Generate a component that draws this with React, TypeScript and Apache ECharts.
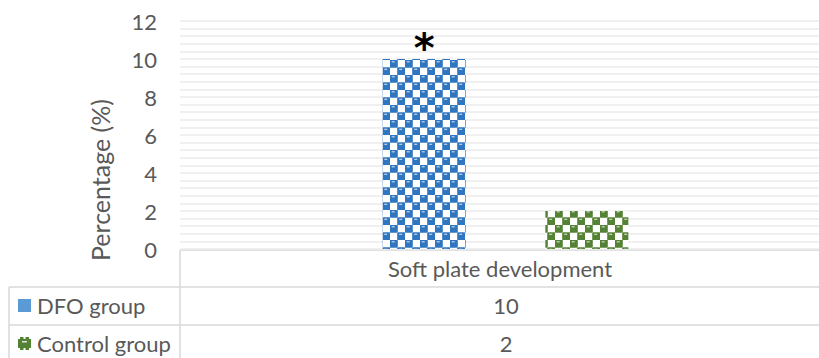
import React, { useEffect, useRef } from 'react';
import * as echarts from 'echarts';

// Chart data
const categories = ['Soft plate development'];
const seriesNames = ['DFO group', 'Control group'];
const dfoValues = [10];
const controlValues = [2];
const significanceMarks = ['*'];
const yTickLabels = ['0', '2', '4', '6', '8', '10', '12'];

const TEXT = '#595959';
const LINE = '#d9d9d9';
const FONT = 'Lato, "Open Sans", sans-serif';
const FS = 22;

// Sphere-style pattern tile: checkerboard of rounded cells with a small highlight
function makeTile(color: string): HTMLCanvasElement {
  const size = 15;
  const half = size / 2;
  const c = document.createElement('canvas');
  c.width = size;
  c.height = size;
  const ctx = c.getContext('2d')!;
  ctx.fillStyle = '#ffffff';
  ctx.fillRect(0, 0, size, size);
  const cell = (x: number, y: number) => {
    const s = half + 0.6;
    ctx.fillStyle = color;
    ctx.beginPath();
    const r = 1;
    ctx.moveTo(x + r, y);
    ctx.lineTo(x + s - r, y);
    ctx.quadraticCurveTo(x + s, y, x + s, y + r);
    ctx.lineTo(x + s, y + s - r);
    ctx.quadraticCurveTo(x + s, y + s, x + s - r, y + s);
    ctx.lineTo(x + r, y + s);
    ctx.quadraticCurveTo(x, y + s, x, y + s - r);
    ctx.lineTo(x, y + r);
    ctx.quadraticCurveTo(x, y, x + r, y);
    ctx.closePath();
    ctx.fill();
    ctx.fillStyle = 'rgba(255,255,255,0.7)';
    ctx.fillRect(x + 2, y + 1.5, 3, 1.2);
  };
  cell(-0.3, -0.3);
  cell(half - 0.3, half - 0.3);
  cell(size - 0.3, size - 0.3);
  return c;
}

export default function App() {
  const ref = useRef<HTMLDivElement>(null);

  useEffect(() => {
    if (!ref.current) return;
    const chart = echarts.init(ref.current, undefined, { renderer: 'svg' });

    const blueTile = makeTile('#2f75bf');
    const greenTile = makeTile('#548235');

    const yMax = Number(yTickLabels[yTickLabels.length - 1]);
    const yStep = Number(yTickLabels[1]) - Number(yTickLabels[0]);

    const tableLeft = 9;
    const tableSplit = 180;
    const tableRight = 819;
    const rowTops = [250, 287, 325];
    const rowH = 38;
    const valueX = 506;

    const hLine = (y: number, x1: number, x2: number) => ({
      type: 'line',
      shape: { x1, y1: y, x2, y2: y },
      style: { stroke: LINE, lineWidth: 1.5 },
      silent: true,
    });
    const vLine = (x: number, y1: number, y2: number) => ({
      type: 'line',
      shape: { x1: x, y1, x2: x, y2 },
      style: { stroke: LINE, lineWidth: 1.5 },
      silent: true,
    });
    const txt = (x: number, y: number, s: string, align: string) => ({
      type: 'text',
      x,
      y,
      style: {
        text: s,
        fill: TEXT,
        font: `${FS}px ${FONT}`,
        textAlign: align,
        textVerticalAlign: 'middle',
      },
      silent: true,
    });

    const graphics: any[] = [
      hLine(rowTops[0], tableSplit, tableRight),
      hLine(rowTops[1], tableLeft, tableRight),
      hLine(rowTops[2], tableLeft, tableRight),
      vLine(tableLeft, rowTops[1], 360),
      vLine(tableSplit, rowTops[0], 360),
      txt(500, rowTops[0] + rowH / 2 - 1, categories[0], 'center'),
      txt(valueX, rowTops[1] + rowH / 2 - 0.5, String(dfoValues[0]), 'center'),
      txt(valueX, rowTops[2] + rowH / 2 - 0.5, String(controlValues[0]), 'center'),
      txt(37, rowTops[1] + rowH / 2 - 0.5, seriesNames[0], 'left'),
      txt(37, rowTops[2] + rowH / 2 - 0.5, seriesNames[1], 'left'),
      {
        type: 'rect',
        shape: { x: 18, y: 299, width: 13, height: 13 },
        style: { fill: '#5b9bd5' },
        silent: true,
      },
      {
        type: 'rect',
        shape: { x: 18, y: 337, width: 13, height: 13 },
        style: { fill: '#548235' },
        silent: true,
      },
      ...[
        [18, 337],
        [29, 337],
        [18, 348],
        [29, 348],
        [23.5, 337],
        [23.5, 348],
      ].map(([x, y]) => ({
        type: 'rect',
        shape: { x, y, width: 2, height: 2 },
        style: { fill: '#ffffff' },
        silent: true,
      })),
      {
        type: 'rect',
        shape: { x: 22, y: 341, width: 5, height: 1.5 },
        style: { fill: 'rgba(255,255,255,0.8)' },
        silent: true,
      },
      {
        type: 'text',
        x: 100,
        y: 180,
        rotation: Math.PI / 2,
        style: {
          text: 'Percentage (%)',
          fill: TEXT,
          font: `25px ${FONT}`,
          textAlign: 'center',
          textVerticalAlign: 'middle',
        },
        silent: true,
      },
    ];

    chart.setOption({
      animation: false,
      backgroundColor: '#ffffff',
      grid: {
        left: 180,
        width: 651,
        top: 21,
        bottom: 109,
        containLabel: false,
        outerBoundsMode: 'none',
      },
      xAxis: {
        type: 'category',
        data: categories,
        axisLine: { show: false },
        axisTick: { show: false },
        axisLabel: { show: false },
      },
      yAxis: {
        type: 'value',
        min: 0,
        max: yMax,
        interval: yStep,
        axisLine: { show: false },
        axisTick: { show: false },
        axisLabel: {
          color: TEXT,
          fontSize: FS,
          fontFamily: FONT,
          margin: 23,
        },
        splitLine: { lineStyle: { color: '#ebebeb', width: 1.5 } },
        minorTick: { show: false, splitNumber: 5 },
        minorSplitLine: { show: true, lineStyle: { color: '#ebebeb', width: 1.5 } },
      },
      series: [
        {
          name: seriesNames[0],
          type: 'bar',
          data: dfoValues,
          barWidth: 83,
          barGap: '96%',
          itemStyle: { color: { image: blueTile, repeat: 'repeat' } as any },
          label: {
            show: true,
            position: 'top',
            formatter: (p: any) => significanceMarks[p.dataIndex] ?? '',
            color: '#000000',
            fontSize: 40,
            fontWeight: 'bold',
            fontFamily: '"DejaVu Sans", sans-serif',
            distance: -9,
          },
        },
        {
          name: seriesNames[1],
          type: 'bar',
          data: controlValues,
          barWidth: 83,
          itemStyle: { color: { image: greenTile, repeat: 'repeat' } as any },
        },
      ],
      graphic: graphics,
    });

    return () => chart.dispose();
  }, []);

  return (
    <div
      ref={ref}
      style={{ position: 'fixed', left: 0, top: 0, width: 819, height: 358 }}
    />
  );
}
